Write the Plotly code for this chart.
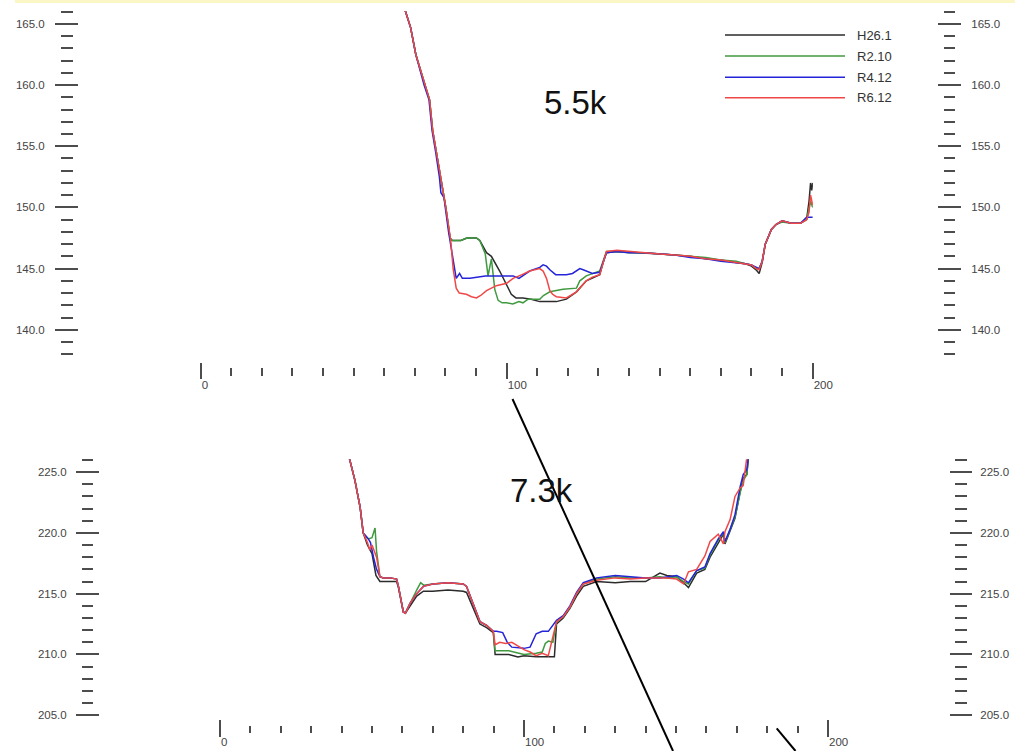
import plotly.graph_objects as go

W, H = 1015, 751

series_names = ["H26.1", "R2.10", "R4.12", "R6.12"]
series_colors = ["#2b2b2b", "#3f9a3f", "#2424d8", "#f04848"]

# ---------------- 5.5k section (top) ----------------
top_x_h26 = [66.7, 68.6, 70.3, 73.2, 74.8, 75.8, 77.0, 78.3, 80.1, 81.5, 82.2, 85.0, 87.0, 90.1, 91.2, 93.4, 95.0,
             97.7, 100.0, 101.5, 103.0, 105.3, 108.0, 110.8, 114.0, 116.2, 119.5, 122.8, 126.0, 130.4, 131.5, 132.6,
             136.0, 140.0, 145.0, 150.0, 155.0, 160.0, 165.0, 170.0, 175.0, 178.0, 180.0, 181.5, 182.5, 183.5, 184.5,
             185.5, 186.5, 188.0, 190.0, 193.0, 196.0, 198.0, 198.8, 199.3, 199.7, 200.0]
top_y_h26 = [166.2, 164.7, 162.5, 160.0, 158.8, 156.3, 154.5, 152.8, 150.0, 147.5, 147.3, 147.3, 147.5, 147.5, 147.3,
             146.3, 146.0, 144.8, 143.6, 142.9, 142.6, 142.6, 142.5, 142.3, 142.3, 142.3, 142.5, 143.1, 144.0, 144.5,
             145.5, 146.3, 146.4, 146.35, 146.3, 146.2, 146.1, 146.0, 145.8, 145.7, 145.5, 145.4, 145.2, 144.9, 144.6,
             145.5, 147.0, 147.6, 148.2, 148.6, 148.9, 148.7, 148.7, 149.0, 150.5, 152.0, 151.4, 152.0]

top_x_r210 = [66.7, 68.6, 70.3, 73.2, 74.8, 75.8, 77.0, 78.3, 80.1, 81.5, 82.2, 85.0, 87.0, 90.1, 91.2, 93.0, 93.9,
              95.0, 96.1, 97.2, 98.5, 100.0, 102.0, 104.0, 105.3, 107.0, 110.8, 112.0, 114.1, 118.4, 122.8, 123.9,
              126.0, 130.4, 131.5, 132.6, 136.0, 140.0, 145.0, 150.0, 155.0, 160.0, 165.0, 170.0, 175.0, 178.0, 180.0,
              181.5, 182.5, 183.5, 184.5, 185.5, 186.5, 188.0, 190.0, 193.0, 196.0, 198.0, 198.8, 199.3, 200.0]
top_y_r210 = [166.2, 164.7, 162.5, 160.0, 158.8, 156.3, 154.5, 152.8, 150.0, 147.5, 147.3, 147.3, 147.5, 147.5, 147.3,
              146.2, 144.4, 145.8, 143.3, 142.4, 142.2, 142.2, 142.1, 142.3, 142.2, 142.5, 142.5, 142.8, 143.1, 143.3,
              143.4, 144.0, 144.4, 144.8, 145.6, 146.4, 146.4, 146.3, 146.3, 146.2, 146.1, 146.0, 145.9, 145.7, 145.6,
              145.4, 145.3, 145.0, 145.0, 145.6, 147.0, 147.6, 148.2, 148.6, 148.8, 148.7, 148.7, 149.0, 149.8, 150.5,
              150.0]

top_x_r412 = [66.7, 68.6, 70.3, 73.0, 74.6, 75.6, 76.8, 78.0, 78.5, 79.5, 81.0, 82.5, 83.5, 84.6, 85.5, 88.0, 90.0,
              93.0, 97.0, 102.1, 104.0, 107.5, 110.8, 111.9, 113.0, 114.1, 116.0, 119.5, 121.5, 123.9, 125.0, 126.0,
              128.0, 130.4, 131.5, 132.6, 136.0, 140.0, 145.0, 150.0, 155.0, 160.0, 165.0, 170.0, 175.0, 178.0, 180.0,
              181.5, 182.5, 183.5, 184.5, 185.5, 186.5, 188.0, 190.0, 193.0, 196.0, 198.0, 200.0]
top_y_r412 = [166.2, 164.7, 162.5, 160.0, 158.8, 156.3, 154.5, 152.5, 151.2, 150.8, 148.0, 145.5, 144.2, 144.6, 144.2,
              144.2, 144.3, 144.4, 144.4, 144.4, 144.2, 144.8, 145.1, 145.3, 145.2, 144.9, 144.5, 144.5, 144.6, 145.0,
              144.9, 144.8, 144.6, 144.7, 145.5, 146.3, 146.4, 146.3, 146.3, 146.2, 146.1, 145.9, 145.8, 145.6, 145.5,
              145.4, 145.3, 145.1, 145.0, 145.6, 147.0, 147.6, 148.2, 148.6, 148.9, 148.7, 148.7, 149.2, 149.2]

top_x_r612 = [66.7, 68.6, 70.3, 73.2, 74.8, 75.8, 77.0, 78.3, 80.1, 81.7, 82.5, 83.5, 84.5, 86.8, 88.5, 90.1, 91.5,
              93.4, 96.6, 100.0, 102.1, 105.0, 107.5, 110.8, 111.9, 113.0, 114.1, 115.0, 116.2, 119.5, 122.8, 126.0,
              128.0, 130.4, 131.5, 132.6, 136.0, 140.0, 145.0, 150.0, 155.0, 160.0, 165.0, 170.0, 175.0, 178.0, 180.0,
              181.5, 182.5, 183.5, 184.5, 185.5, 186.5, 188.0, 190.0, 193.0, 196.0, 198.0, 198.8, 199.3, 200.0]
top_y_r612 = [166.2, 164.7, 162.5, 160.0, 158.8, 156.3, 154.5, 152.8, 150.0, 147.3, 145.0, 143.4, 143.0, 142.9, 142.7,
              142.6, 142.8, 143.2, 143.6, 143.8, 144.2, 144.5, 144.8, 145.0, 144.8, 144.2, 143.2, 142.9, 142.7, 142.6,
              143.1, 144.0, 144.3, 144.5, 145.5, 146.4, 146.5, 146.4, 146.3, 146.2, 146.1, 146.0, 145.8, 145.7, 145.5,
              145.4, 145.3, 145.0, 144.9, 145.6, 147.0, 147.6, 148.2, 148.6, 148.9, 148.7, 148.7, 149.0, 149.6, 151.0,
              150.2]

# ---------------- 7.3k section (bottom) ----------------
bot_x_h26 = [42.5, 44.4, 46.1, 47.1, 48.5, 50.0, 51.3, 52.6, 54.0, 56.0, 58.1, 58.7, 60.3, 61.0, 62.5, 64.7, 66.9,
             70.0, 75.0, 80.0, 81.1, 85.5, 87.7, 89.9, 90.5, 95.0, 98.0, 100.0, 104.0, 108.0, 110.0, 110.7, 112.9,
             115.1, 117.3, 119.5, 123.9, 130.0, 135.0, 140.0, 144.7, 147.0, 150.2, 152.5, 154.1, 156.8, 159.5, 161.2,
             163.9, 165.6, 166.1, 167.8, 169.4, 171.1, 172.1, 173.3, 173.8]
bot_y_h26 = [226.2, 224.3, 222.1, 220.0, 219.0, 218.3, 216.5, 216.0, 216.0, 216.0, 216.0, 215.5, 213.5, 213.4, 214.0,
             214.8, 215.2, 215.2, 215.3, 215.2, 215.1, 212.5, 212.2, 211.8, 210.0, 210.0, 209.8, 209.9, 209.8, 209.8,
             209.8, 212.5, 213.0, 213.8, 214.8, 215.6, 216.0, 215.9, 216.0, 216.0, 216.7, 216.5, 216.4, 215.9, 215.5,
             216.7, 217.0, 218.0, 219.2, 219.9, 219.1, 220.1, 221.2, 223.4, 224.5, 224.8, 226.2]

bot_x_r210 = [42.5, 44.4, 46.1, 47.1, 48.8, 50.0, 51.0, 51.5, 52.6, 53.7, 56.0, 58.1, 58.7, 60.3, 61.0, 62.5, 64.7,
              66.0, 67.0, 70.0, 75.0, 80.0, 81.1, 85.5, 87.7, 89.9, 90.5, 95.0, 100.0, 104.0, 106.0, 107.0, 108.0,
              109.5, 110.7, 112.9, 115.1, 117.3, 119.5, 123.9, 130.0, 135.0, 140.0, 144.7, 147.0, 150.2, 152.5, 154.1,
              156.8, 159.5, 161.2, 163.9, 165.6, 166.1, 167.8, 169.4, 171.1, 172.1, 173.3, 173.8]
bot_y_r210 = [226.2, 224.3, 222.1, 220.0, 219.5, 219.6, 220.4, 218.5, 216.4, 216.3, 216.3, 216.2, 215.6, 213.5, 213.4,
              214.2, 215.3, 215.9, 215.7, 215.8, 215.9, 215.8, 215.6, 212.7, 212.4, 211.9, 210.3, 210.3, 210.0, 210.1,
              210.2, 210.9, 211.1, 211.0, 212.7, 213.1, 213.9, 215.0, 215.8, 216.2, 216.4, 216.3, 216.3, 216.4, 216.3,
              216.4, 216.0, 215.8, 216.9, 217.1, 218.2, 219.4, 220.0, 219.2, 220.2, 221.3, 223.3, 224.3, 224.8, 226.2]

bot_x_r412 = [42.5, 44.4, 46.1, 47.1, 48.8, 49.5, 50.5, 51.5, 52.6, 53.7, 56.0, 58.1, 58.7, 60.3, 61.0, 62.5, 64.7,
              66.9, 70.0, 75.0, 80.0, 81.1, 85.5, 87.7, 89.9, 91.0, 93.0, 94.5, 96.0, 100.0, 102.0, 104.0, 106.0,
              108.0, 110.7, 112.9, 115.1, 117.3, 119.5, 123.9, 130.0, 135.0, 140.0, 144.7, 147.0, 150.2, 152.5, 154.1,
              156.8, 159.5, 161.2, 163.9, 165.6, 166.1, 167.8, 169.4, 171.1, 172.1, 173.3, 173.8]
bot_y_r412 = [226.2, 224.3, 222.1, 220.0, 219.5, 219.2, 218.0, 217.0, 216.4, 216.3, 216.3, 216.2, 215.6, 213.5, 213.4,
              214.2, 215.0, 215.6, 215.8, 215.9, 215.8, 215.6, 212.7, 212.4, 211.9, 211.9, 211.8, 211.0, 210.6, 210.5,
              210.6, 211.7, 211.9, 211.9, 212.8, 213.2, 214.0, 215.1, 215.9, 216.3, 216.5, 216.4, 216.3, 216.3, 216.4,
              216.5, 216.2, 215.9, 216.9, 217.2, 218.3, 219.5, 220.1, 219.3, 220.3, 221.5, 223.8, 224.8, 225.2, 226.2]

bot_x_r612 = [42.5, 44.4, 46.1, 47.1, 48.5, 49.3, 50.0, 51.5, 52.6, 53.7, 56.0, 58.1, 58.7, 60.3, 61.0, 62.5, 64.7,
              66.9, 70.0, 75.0, 80.0, 81.1, 85.5, 87.7, 89.9, 90.5, 92.0, 94.0, 96.0, 98.0, 100.0, 102.0, 104.0, 106.0,
              108.0, 110.7, 112.9, 115.1, 117.3, 119.5, 123.9, 130.0, 135.0, 140.0, 144.7, 147.0, 150.2, 152.5, 154.1,
              156.8, 159.5, 161.2, 163.9, 165.6, 166.1, 167.8, 169.4, 171.1, 172.1, 173.3, 173.8]
bot_y_r612 = [226.2, 224.3, 222.1, 220.0, 219.2, 218.6, 219.0, 218.0, 216.4, 216.3, 216.3, 216.2, 215.6, 213.5, 213.4,
              214.2, 215.0, 215.6, 215.8, 215.9, 215.8, 215.6, 212.7, 212.4, 211.9, 210.8, 211.0, 210.9, 211.0, 210.7,
              210.4, 210.2, 209.9, 210.1, 209.9, 212.7, 213.1, 213.9, 215.0, 215.8, 216.1, 216.3, 216.2, 216.3, 216.3,
              216.3, 216.2, 215.8, 216.8, 217.0, 218.1, 219.3, 219.9, 219.1, 220.1, 221.1, 223.0, 223.7, 223.9, 226.2]

top_series = [(top_x_h26, top_y_h26), (top_x_r210, top_y_r210), (top_x_r412, top_y_r412), (top_x_r612, top_y_r612)]
bot_series = [(bot_x_h26, bot_y_h26), (bot_x_r210, bot_y_r210), (bot_x_r412, bot_y_r412), (bot_x_r612, bot_y_r612)]

section_labels = ["5.5k", "7.3k"]
x_range = [0, 200]
top_y_range = [138, 166]
bot_y_range = [205, 226]


def px(v):
    return v / W


def py(v):
    return 1 - v / H


fig = go.Figure()
for i, (xs, ys) in enumerate(top_series):
    fig.add_trace(go.Scatter(x=xs, y=ys, mode="lines", name=series_names[i],
                             line=dict(color=series_colors[i], width=1.5),
                             xaxis="x", yaxis="y", showlegend=False, hoverinfo="skip"))
for i, (xs, ys) in enumerate(bot_series):
    fig.add_trace(go.Scatter(x=xs, y=ys, mode="lines", name=series_names[i],
                             line=dict(color=series_colors[i], width=1.5),
                             xaxis="x2", yaxis="y2", showlegend=False, hoverinfo="skip"))

tick_color = "#4d4d4d"
tick_font = dict(family="Liberation Sans, Arial, sans-serif", size=11.5, color="#444444")
PAD = 0.06


def x_dom(p0, p200):
    s = (p200 - p0) / 200.0
    return [px(p0 - PAD * s), px(p200 + PAD * s)]


def y_dom(p_lo, p_hi, lo, hi):
    s = (p_lo - p_hi) / (hi - lo)
    return [py(p_lo + PAD * s), py(p_hi - PAD * s)]


def xaxis_cfg(dom, pos_px, step, tlen, labels, overlay=None):
    d = dict(domain=dom, range=[x_range[0] - PAD, x_range[1] + PAD], anchor="free", position=py(pos_px),
             showgrid=False, zeroline=False, showline=False, tick0=0, dtick=step,
             ticks="outside", ticklen=tlen, tickwidth=2, tickcolor=tick_color,
             showticklabels=labels, tickfont=tick_font, automargin=False, fixedrange=True)
    if labels:
        d["ticklabelposition"] = "outside right"
        d["ticklabelstandoff"] = 12
    if overlay:
        d["overlaying"] = overlay
    return d


def yaxis_cfg(dom, rng, pos_px, side, step, tlen, labels, standoff=0, overlay=None):
    d = dict(domain=dom, range=[rng[0] - PAD, rng[1] + PAD], anchor="free", position=px(pos_px), side=side,
             showgrid=False, zeroline=False, showline=False, tick0=0, dtick=step, tickformat=".1f",
             ticks="outside", ticklen=tlen, tickwidth=2.2, tickcolor=tick_color,
             showticklabels=labels, tickfont=tick_font, ticklabelstandoff=standoff,
             automargin=False, fixedrange=True)
    if overlay:
        d["overlaying"] = overlay
    return d


top_xd = x_dom(200.7, 812.7)
bot_xd = x_dom(220.0, 828.0)
top_yd = y_dom(354.2, 11.7, 138, 166)
bot_yd = y_dom(715.2, 460.0, 205, 226)

fig.update_layout(
    width=W, height=H, margin=dict(l=0, r=0, t=0, b=0, autoexpand=False),
    paper_bgcolor="white", plot_bgcolor="white", showlegend=False,
    # top section: x ticks (major with labels, minor overlay)
    xaxis=xaxis_cfg(top_xd, 361.7, 100, 16.3, True),
    xaxis3=xaxis_cfg(top_xd, 366.7, 10, 8.3, False, overlay="x"),
    # bottom section
    xaxis2=xaxis_cfg(bot_xd, 719.3, 100, 16.7, True),
    xaxis4=xaxis_cfg(bot_xd, 725.0, 10, 6.7, False, overlay="x2"),
    # top section y ticks, left and right
    yaxis=yaxis_cfg(top_yd, top_y_range, 78.4, "left", 5, 23.4, True, standoff=8),
    yaxis3=yaxis_cfg(top_yd, top_y_range, 72.7, "left", 1, 11.7, False, overlay="y"),
    yaxis4=yaxis_cfg(top_yd, top_y_range, 936.7, "right", 5, 23.3, True, standoff=8, overlay="y"),
    yaxis5=yaxis_cfg(top_yd, top_y_range, 942.7, "right", 1, 11.3, False, overlay="y"),
    # bottom section y ticks, left and right
    yaxis2=yaxis_cfg(bot_yd, bot_y_range, 98.7, "left", 5, 22.7, True, standoff=7),
    yaxis6=yaxis_cfg(bot_yd, bot_y_range, 93.3, "left", 1, 11.6, False, overlay="y2"),
    yaxis7=yaxis_cfg(bot_yd, bot_y_range, 949.0, "right", 5, 22.0, True, standoff=6, overlay="y2"),
    yaxis8=yaxis_cfg(bot_yd, bot_y_range, 954.0, "right", 1, 12.0, False, overlay="y2"),
)

# overlay axes carry an empty trace so they render
for xa, ya in [("x3", "y"), ("x4", "y2"), ("x", "y3"), ("x", "y4"), ("x", "y5"),
               ("x2", "y6"), ("x2", "y7"), ("x2", "y8")]:
    fig.add_trace(go.Scatter(x=[None], y=[None], xaxis=xa, yaxis=ya, showlegend=False, hoverinfo="skip"))

shapes = []
annotations = []

# pale yellow band at the very top of the scan
shapes.append(dict(type="rect", xref="paper", yref="paper", x0=px(15), x1=1, y0=py(3), y1=1,
                   fillcolor="#fbf6c6", line=dict(width=0), layer="below"))

# legend (long line samples like the original)
legend_rows = [35.0, 56.0, 77.3, 97.7]
for i, name in enumerate(series_names):
    shapes.append(dict(type="line", xref="paper", yref="paper", x0=px(725), x1=px(845),
                       y0=py(legend_rows[i]), y1=py(legend_rows[i]),
                       line=dict(color=series_colors[i], width=1.6)))
    annotations.append(dict(text=name, xref="paper", yref="paper", x=px(855), y=py(legend_rows[i]),
                            xanchor="left", yanchor="middle", showarrow=False,
                            font=dict(family="Liberation Sans, Arial, sans-serif", size=13, color="#333333")))

# section labels
annotations.append(dict(text=section_labels[0], xref="paper", yref="paper", x=px(575), y=py(103),
                        xanchor="center", yanchor="middle", showarrow=False,
                        font=dict(family="Liberation Sans, Arial, sans-serif", size=33, color="#111111")))
annotations.append(dict(text=section_labels[1], xref="paper", yref="paper", x=px(541.5), y=py(490),
                        xanchor="center", yanchor="middle", showarrow=False,
                        font=dict(family="Liberation Sans, Arial, sans-serif", size=33, color="#111111")))

# straight strokes overlaid on the sheet
shapes.append(dict(type="line", xref="paper", yref="paper", x0=px(512.5), y0=py(399), x1=px(673), y1=py(751),
                   line=dict(color="black", width=2)))
shapes.append(dict(type="line", xref="paper", yref="paper", x0=px(776.7), y0=py(728.3), x1=px(795.5), y1=py(751),
                   line=dict(color="black", width=2)))

fig.update_layout(shapes=shapes, annotations=annotations)
fig.write_html(
    "out.html",
    config={"responsive": False, "displayModeBar": False},
    post_script="document.body.style.margin='0';document.body.style.padding='0';",
)
